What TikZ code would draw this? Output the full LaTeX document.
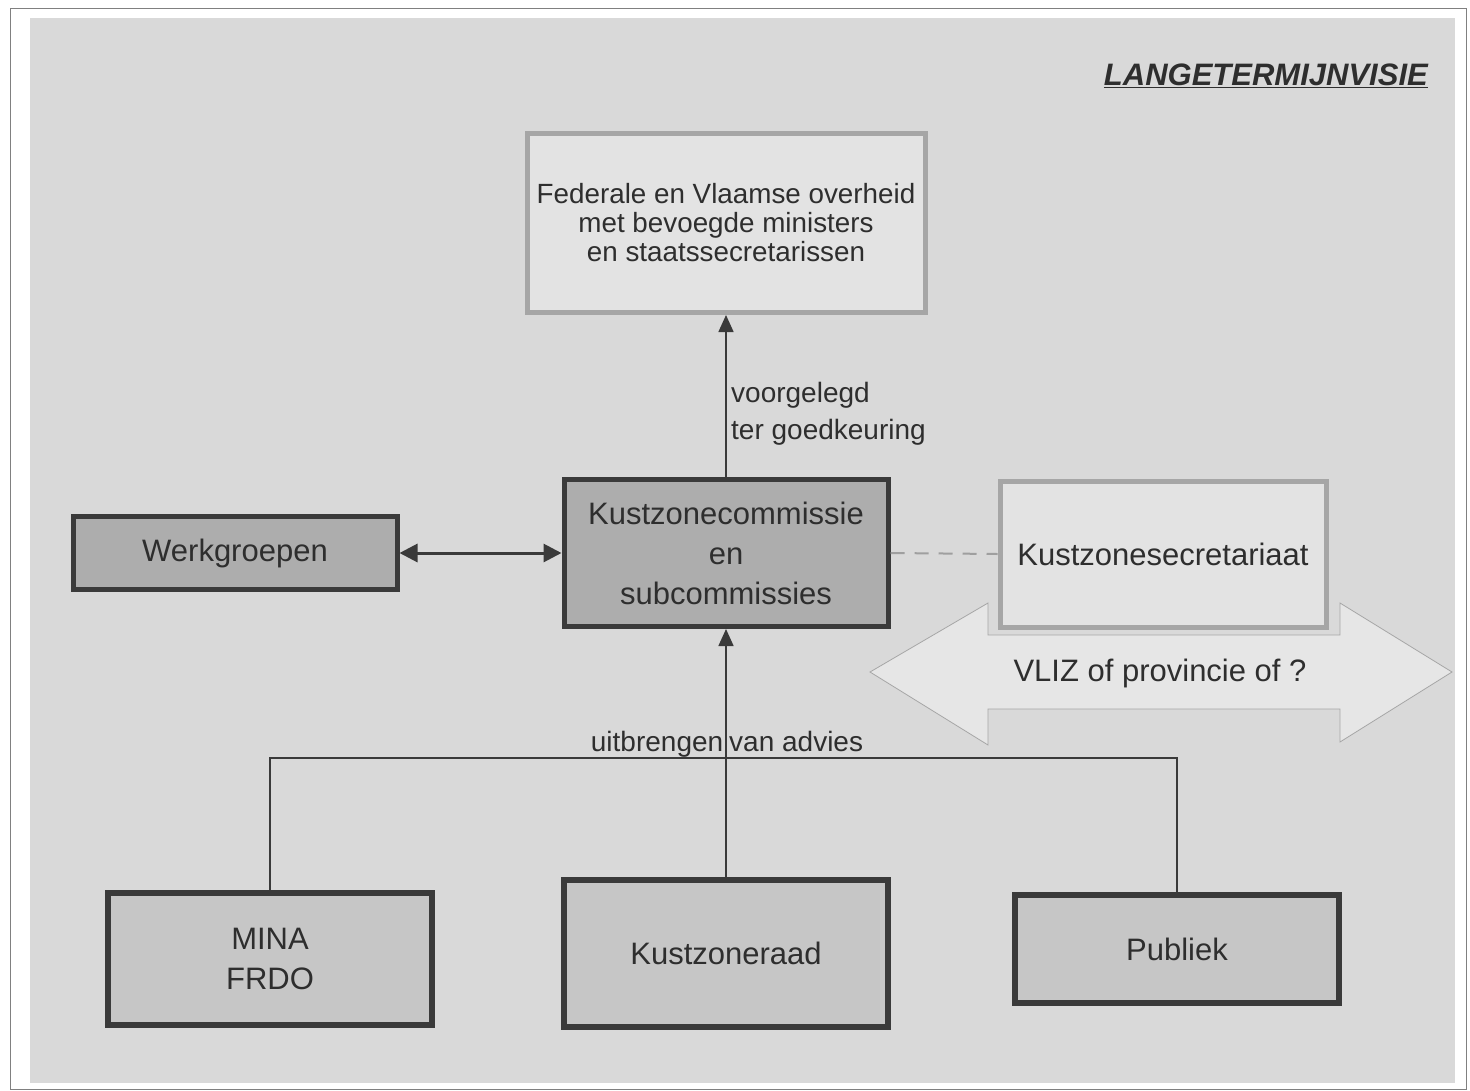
\documentclass[tikz,border=0pt]{standalone}
\usepackage{fontspec}
\setmainfont{Liberation Sans}
\usetikzlibrary{arrows.meta}
\definecolor{txt}{HTML}{2E2E2E}
\definecolor{bg}{HTML}{D9D9D9}
\definecolor{lightbox}{HTML}{E3E3E3}
\definecolor{lightedge}{HTML}{A6A6A6}
\definecolor{darkbox}{HTML}{ADADAD}
\definecolor{midbox}{HTML}{C6C6C6}
\definecolor{darkedge}{HTML}{3A3A3A}
\definecolor{arrowfill}{HTML}{E6E6E6}
\begin{document}
\begin{tikzpicture}[x=1pt,y=-1pt,
  basebox/.style={rectangle, inner sep=0pt, align=center, text=txt},
  paleframe/.style={basebox, draw=lightedge, fill=lightbox, line width=5pt},
  heavyframe/.style={basebox, draw=darkedge, fill=darkbox, line width=5pt},
  sourceframe/.style={basebox, draw=darkedge, fill=midbox, line width=6pt},
  bigtext/.style={font=\fontsize{31}{40}\selectfont},
  midtext/.style={font=\fontsize{27.8}{29}\selectfont},
  lbl/.style={text=txt, inner sep=0pt, font=\fontsize{28}{37}\selectfont},
  flow/.style={draw=darkedge, line width=1.6pt, -{Triangle[length=17pt,width=15pt]}},
  link/.style={draw=darkedge, line width=1.6pt}
]
% canvas and frame
\fill[white] (0,0) rectangle (1470,1090);
\fill[bg] (30,18) rectangle (1455,1083);
\draw[gray, line width=1pt] (10,8) rectangle (1466,1089);

% heading
\node[anchor=east, text=txt, inner sep=0pt, font=\fontsize{31}{34}\selectfont\bfseries\itshape]
  (title) at (1428,76) {\underline{LANGETERMIJNVISIE}};

% top level
\node[paleframe, midtext, minimum width=398pt, minimum height=179pt] (fed) at (726,223)
  {Federale en Vlaamse overheid\\met bevoegde ministers\\en staatssecretarissen};

% commission and working groups
\node[heavyframe, bigtext, minimum width=324pt, minimum height=147pt] (kcom) at (726,553)
  {Kustzonecommissie\\en\\subcommissies};
\node[heavyframe, bigtext, minimum width=324pt, minimum height=73pt] (werk) at (235,553)
  {Werkgroepen};

% secretariat with the wide double arrow behind it
\fill[arrowfill, draw=gray!70, line width=0.8pt]
  (870,672) -- (988,603) -- (988,635) -- (1340,635) -- (1340,603) -- (1452,672)
  -- (1340,742) -- (1340,709) -- (988,709) -- (988,745) -- cycle;
\node[text=txt, inner sep=0pt, font=\fontsize{31}{34}\selectfont] (vliz) at (1160,673)
  {VLIZ of provincie of ?};
\node[paleframe, bigtext, minimum width=326pt, minimum height=146pt] (ksec) at (1163,554)
  {Kustzonesecretariaat};

% advisory bodies
\node[sourceframe, bigtext, minimum width=324pt, minimum height=132pt] (mina) at (270,959)
  {MINA\\FRDO};
\node[sourceframe, bigtext, minimum width=324pt, minimum height=147pt] (kraad) at (726,953)
  {Kustzoneraad};
\node[sourceframe, bigtext, minimum width=324pt, minimum height=108pt] (publiek) at (1177,949)
  {Publiek};

% connectors
\draw[flow] (kcom.north) -- (fed.south);
\node[lbl, anchor=north west, align=left] (goedk) at (731,382) {voorgelegd\\ter goedkeuring};

\draw[draw=darkedge, line width=3pt, {Triangle[length=18pt,width=18pt]}-{Triangle[length=18pt,width=18pt]}]
  (werk.east) -- (kcom.west);
\draw[draw=gray!75, line width=2pt, dash pattern=on 14pt off 10pt] (kcom.east) -- (ksec.west);

\coordinate (join) at (726,758);
\draw[link] (mina.north) |- (join) -| (publiek.north);
\draw[flow] (kraad.north) -- (kcom.south);
\node[lbl] (advies) at (727,744) {uitbrengen\hspace{6pt}van advies};
\end{tikzpicture}
\end{document}
